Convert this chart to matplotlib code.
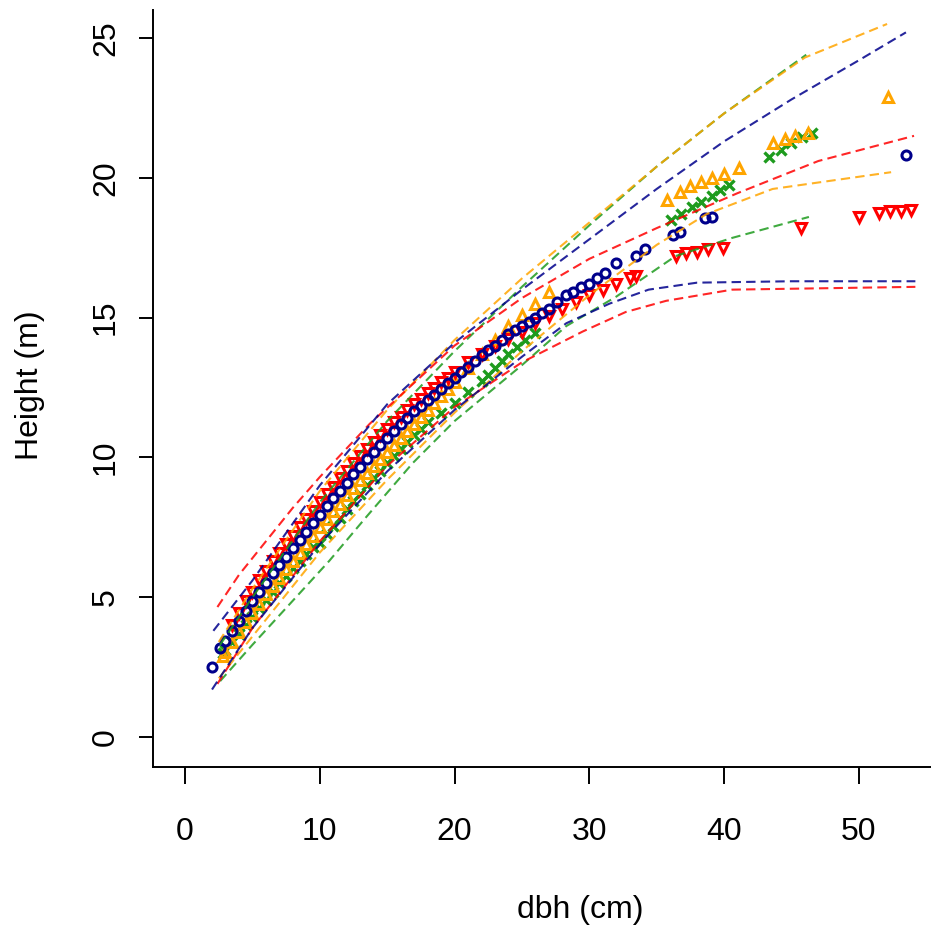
import matplotlib
matplotlib.use("Agg")
import matplotlib.pyplot as plt

plt.rcParams['font.family'] = ['Liberation Sans', 'DejaVu Sans']

# ---- fitted heights (points) ----
blue_dbh = [2.0, 2.6, 3, 3.5, 4, 4.5, 5, 5.5, 6, 6.5, 7, 7.5, 8, 8.5, 9, 9.5, 10, 10.5, 11,
            11.5, 12, 12.5, 13, 13.5, 14, 14.5, 15, 15.5, 16, 16.5, 17, 17.5, 18, 18.5, 19,
            19.5, 20, 20.5, 21, 21.5, 22, 22.5, 23, 23.5, 24, 24.5, 25, 25.5, 26, 26.5, 27,
            27.6, 28.3, 28.8, 29.4, 30.0, 30.6, 31.2, 32.0, 33.5, 34.1, 36.2, 36.7, 38.6,
            39.1, 53.5]
blue_h = [2.5, 3.2, 3.45, 3.8, 4.15, 4.5, 4.85, 5.2, 5.5, 5.85, 6.15, 6.45, 6.75, 7.05, 7.35,
          7.65, 7.95, 8.25, 8.55, 8.8, 9.1, 9.4, 9.65, 9.95, 10.2, 10.45, 10.7, 10.95, 11.2,
          11.4, 11.65, 11.85, 12.05, 12.25, 12.45, 12.65, 12.85, 13.05, 13.25, 13.45, 13.65,
          13.85, 14.0, 14.2, 14.4, 14.55, 14.7, 14.85, 15.0, 15.15, 15.3,
          15.55, 15.8, 15.9, 16.1, 16.2, 16.4, 16.6, 16.95, 17.2, 17.45, 17.95, 18.05, 18.55,
          18.6, 20.8]

red_dbh = [3.5, 4, 4.5, 5, 5.5, 6, 6.5, 7, 7.5, 8, 8.5, 9, 9.5, 10, 10.5, 11, 11.5, 12, 12.5,
           13, 13.5, 14, 14.5, 15, 15.5, 16, 16.5, 17, 17.5, 18, 18.5, 19, 19.5, 20, 21, 22,
           23, 24, 25, 26, 27, 28, 29, 30, 31, 32, 33, 33.5,
           36.4, 37.2, 38.0, 38.8, 39.9, 45.7, 50.0, 51.5, 52.3, 53.1, 53.9]
red_h = [4.0, 4.45, 4.85, 5.2, 5.6, 5.95, 6.3, 6.6, 6.9, 7.2, 7.5, 7.8, 8.1, 8.4, 8.7, 8.95,
         9.25, 9.5, 9.8, 10.05, 10.3, 10.55, 10.8, 11.0, 11.25, 11.45, 11.7, 11.9, 12.1, 12.3,
         12.5, 12.7, 12.85, 13.05, 13.4, 13.7, 14.0, 14.25, 14.5, 14.8, 15.05, 15.3, 15.55,
         15.8, 16.0, 16.2, 16.4, 16.5,
         17.2, 17.3, 17.35, 17.45, 17.5, 18.2, 18.6, 18.75, 18.8, 18.8, 18.85]

orange_dbh = [2.8, 3, 3.5, 4, 4.5, 5, 5.5, 6, 6.5, 7, 7.5, 8, 8.5, 9, 9.5, 10, 10.5, 11, 11.5,
              12, 12.5, 13, 13.5, 14, 14.5, 15, 15.5, 16, 16.5, 17, 17.5, 18, 18.5, 19, 19.5,
              20, 21, 22, 23, 24, 25, 26, 27,
              35.8, 36.7, 37.5, 38.3, 39.1, 40.0, 41.1, 43.6, 44.5, 45.3, 46.2, 52.2]
orange_h = [2.9, 3.05, 3.4, 3.75, 4.1, 4.45, 4.75, 5.1, 5.4, 5.7, 6.0, 6.3, 6.6, 6.9, 7.2, 7.5,
            7.8, 8.1, 8.35, 8.65, 8.9, 9.2, 9.45, 9.7, 9.95, 10.2, 10.45, 10.7, 10.95, 11.2,
            11.45, 11.7, 11.95, 12.2, 12.45, 12.7, 13.2, 13.7, 14.2, 14.7, 15.1, 15.5, 15.9,
            19.2, 19.5, 19.7, 19.85, 20.0, 20.15, 20.35, 21.25, 21.4, 21.5, 21.6, 22.9]

green_dbh = [2.8, 3, 3.5, 4, 4.5, 5, 5.5, 6, 6.5, 7, 7.5, 8, 8.5, 9, 9.5, 10, 10.5, 11, 11.5,
             12, 12.5, 13, 13.5, 14, 14.5, 15, 15.5, 16, 16.5, 17, 17.5, 18, 19, 20, 21, 22,
             22.5, 23, 23.5, 24, 24.6, 25.2, 26,
             36.1, 36.8, 37.6, 38.3, 39.1, 39.7, 40.4, 43.3, 44.2, 45.0, 45.8, 46.5]
green_h = [3.0, 3.1, 3.4, 3.7, 4.0, 4.3, 4.6, 4.9, 5.2, 5.5, 5.75, 6.05, 6.3, 6.55, 6.8, 6.95,
           7.25, 7.55, 7.85, 8.15, 8.45, 8.7, 9.0, 9.25, 9.5, 9.8, 10.05, 10.3, 10.55, 10.8,
           11.0, 11.25, 11.6, 11.95, 12.35, 12.75, 12.95, 13.2, 13.45, 13.7, 13.95, 14.2, 14.45,
           18.5, 18.7, 18.95, 19.15, 19.35, 19.55, 19.75, 20.75, 21.0, 21.25, 21.45, 21.6]

# ---- dashed interval lines ----
blue_up_dbh = [2.1, 5, 10, 15, 20, 25, 30, 35, 40, 45, 50, 53.5]
blue_up_h = [3.8, 5.6, 9.0, 11.9, 14.1, 16.0, 17.8, 19.6, 21.3, 22.8, 24.2, 25.2]
blue_lo_dbh = [2.0, 5, 10, 15, 20, 25, 28.3, 31.5, 34.4, 38, 45, 54.2]
blue_lo_h = [1.7, 3.9, 6.9, 9.5, 11.7, 13.6, 14.8, 15.5, 16.0, 16.25, 16.3, 16.3]

red_up_dbh = [2.4, 4, 6, 8, 10, 13.7, 20, 25, 30, 35, 41, 47, 54.1]
red_up_h = [4.65, 5.8, 7.0, 8.2, 9.3, 11.2, 14.0, 15.7, 17.1, 18.2, 19.45, 20.6, 21.5]
red_lo_dbh = [2.4, 5, 10, 15, 20, 25, 29.5, 32.7, 35.7, 40.6, 54.2]
red_lo_h = [1.9, 3.9, 7.0, 9.7, 11.8, 13.4, 14.5, 15.2, 15.6, 16.0, 16.1]

orange_up_dbh = [2.5, 5, 10, 15, 20, 25, 30, 35, 40, 46, 52.1]
orange_up_h = [3.4, 5.3, 8.8, 11.7, 14.2, 16.4, 18.4, 20.4, 22.3, 24.3, 25.5]
orange_lo_dbh = [2.5, 5, 10, 15, 20, 25, 30, 35, 38.7, 43.6, 52.4]
orange_lo_h = [2.1, 3.6, 6.6, 9.2, 11.6, 13.8, 15.8, 17.6, 18.7, 19.6, 20.2]

green_up_dbh = [2.6, 5, 10, 15, 20, 25, 30, 35, 40, 46.1]
green_up_h = [3.3, 5.0, 8.4, 11.3, 13.8, 16.1, 18.3, 20.4, 22.3, 24.4]
green_lo_dbh = [2.6, 5, 10.7, 13.5, 16.9, 20, 25, 28.3, 32, 36.4, 40.6, 46.3]
green_lo_h = [2.0, 3.3, 6.3, 7.9, 9.8, 11.3, 13.3, 14.7, 15.75, 17.2, 17.85, 18.6]

BLUE = '#00008B'
RED = '#FF0000'
ORANGE = '#FFA500'
GREEN = '#1E9B1E'

fig = plt.figure(figsize=(9.31, 9.30), dpi=100)
# plot region runs past the right edge (the original was cropped there)
ax = fig.add_axes([153 / 931, 1 - 767 / 930, 854 / 931, 757 / 930])

ax.plot(green_dbh, green_h, 'x', color=GREEN, ms=7, mew=2.4, ls='none')
ax.plot(orange_dbh, orange_h, '^', color=ORANGE, mfc='none', ms=7, mew=2.2, ls='none')
ax.plot(red_dbh, red_h, 'v', color=RED, mfc='none', ms=7, mew=2.2, ls='none')
ax.plot(blue_dbh, blue_h, 'o', color=BLUE, mfc='none', ms=6.5, mew=2.2, ls='none')

dash = (4.5, 2.5)
for xs, ys, c in [(green_up_dbh, green_up_h, GREEN), (green_lo_dbh, green_lo_h, GREEN),
                  (orange_up_dbh, orange_up_h, ORANGE), (orange_lo_dbh, orange_lo_h, ORANGE),
                  (red_up_dbh, red_up_h, RED), (red_lo_dbh, red_lo_h, RED),
                  (blue_up_dbh, blue_up_h, BLUE), (blue_lo_dbh, blue_lo_h, BLUE)]:
    ax.plot(xs, ys, color=c, lw=1.5, dashes=dash, alpha=0.85)

ax.set_xlim(-2.38, 61.0)
ax.set_ylim(-1.07, 26.0)
ax.set_xticks([0, 10, 20, 30, 40, 50])
ax.set_yticks([0, 5, 10, 15, 20, 25])
ax.spines['top'].set_visible(False)
ax.spines['right'].set_visible(False)
for s in ('left', 'bottom'):
    ax.spines[s].set_linewidth(1.4)
ax.tick_params(axis='x', length=12, width=1.4, pad=24, labelsize=23)
ax.tick_params(axis='y', length=10, width=1.4, pad=13, labelsize=23, labelrotation=90)
for lab in ax.get_yticklabels():
    lab.set_va('center')

fig.text(580 / 931, 1 - 910 / 930, 'dbh (cm)', ha='center', va='center', fontsize=23)
fig.text(30 / 931, 1 - 385 / 930, 'Height (m)', ha='center', va='center', fontsize=23,
         rotation=90)

fig.savefig('out.png', dpi=100)
